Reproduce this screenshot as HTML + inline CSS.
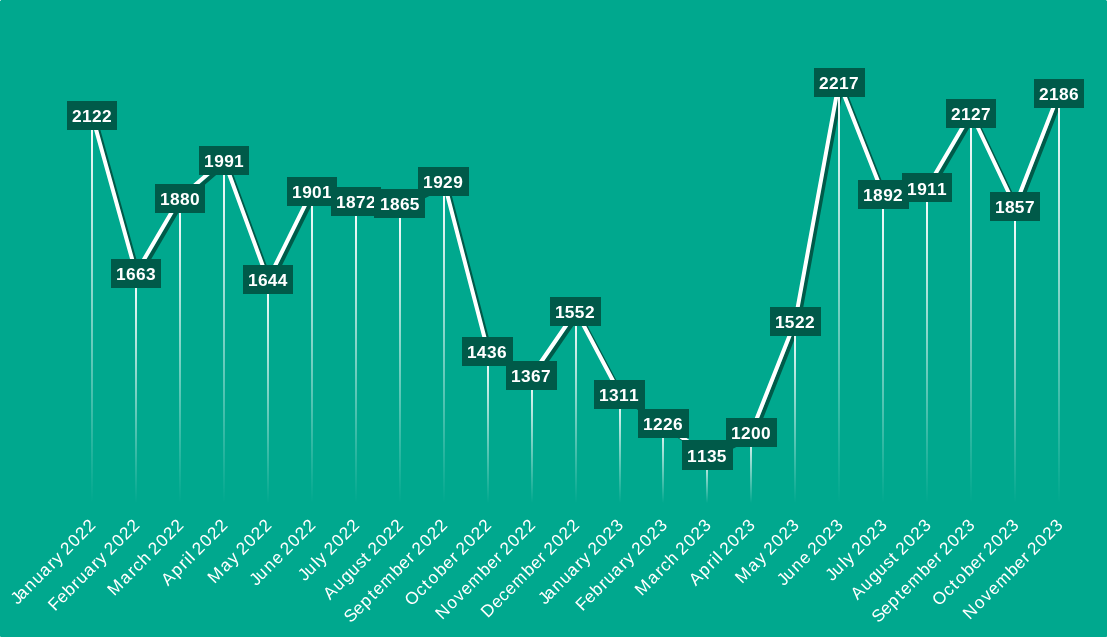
<!DOCTYPE html>
<html lang="en">
<head>
<meta charset="utf-8">
<title>Monthly values chart</title>
<style>
html,body{margin:0;padding:0;background:#00A88E;}
body{width:1107px;height:637px;overflow:hidden;}
svg{display:block;}
text{font-family:"Liberation Sans", sans-serif;fill:#fff;}
.dl{font-weight:700;font-size:17.3px;text-anchor:start;}
.ax{font-weight:400;font-size:17.2px;text-anchor:start;}
</style>
</head>
<body>
<svg width="1107" height="637" viewBox="0 0 1107 637">
<defs>
<linearGradient id="g0" gradientUnits="userSpaceOnUse" x1="0" y1="115.14" x2="0" y2="503.00"><stop offset="0" stop-color="#fff" stop-opacity="1"/><stop offset="1" stop-color="#fff" stop-opacity="0"/></linearGradient>
<linearGradient id="g1" gradientUnits="userSpaceOnUse" x1="0" y1="273.22" x2="0" y2="503.00"><stop offset="0" stop-color="#fff" stop-opacity="1"/><stop offset="1" stop-color="#fff" stop-opacity="0"/></linearGradient>
<linearGradient id="g2" gradientUnits="userSpaceOnUse" x1="0" y1="198.48" x2="0" y2="503.00"><stop offset="0" stop-color="#fff" stop-opacity="1"/><stop offset="1" stop-color="#fff" stop-opacity="0"/></linearGradient>
<linearGradient id="g3" gradientUnits="userSpaceOnUse" x1="0" y1="160.25" x2="0" y2="503.00"><stop offset="0" stop-color="#fff" stop-opacity="1"/><stop offset="1" stop-color="#fff" stop-opacity="0"/></linearGradient>
<linearGradient id="g4" gradientUnits="userSpaceOnUse" x1="0" y1="279.76" x2="0" y2="503.00"><stop offset="0" stop-color="#fff" stop-opacity="1"/><stop offset="1" stop-color="#fff" stop-opacity="0"/></linearGradient>
<linearGradient id="g5" gradientUnits="userSpaceOnUse" x1="0" y1="191.25" x2="0" y2="503.00"><stop offset="0" stop-color="#fff" stop-opacity="1"/><stop offset="1" stop-color="#fff" stop-opacity="0"/></linearGradient>
<linearGradient id="g6" gradientUnits="userSpaceOnUse" x1="0" y1="201.24" x2="0" y2="503.00"><stop offset="0" stop-color="#fff" stop-opacity="1"/><stop offset="1" stop-color="#fff" stop-opacity="0"/></linearGradient>
<linearGradient id="g7" gradientUnits="userSpaceOnUse" x1="0" y1="203.65" x2="0" y2="503.00"><stop offset="0" stop-color="#fff" stop-opacity="1"/><stop offset="1" stop-color="#fff" stop-opacity="0"/></linearGradient>
<linearGradient id="g8" gradientUnits="userSpaceOnUse" x1="0" y1="181.61" x2="0" y2="503.00"><stop offset="0" stop-color="#fff" stop-opacity="1"/><stop offset="1" stop-color="#fff" stop-opacity="0"/></linearGradient>
<linearGradient id="g9" gradientUnits="userSpaceOnUse" x1="0" y1="351.40" x2="0" y2="503.00"><stop offset="0" stop-color="#fff" stop-opacity="1"/><stop offset="1" stop-color="#fff" stop-opacity="0"/></linearGradient>
<linearGradient id="g10" gradientUnits="userSpaceOnUse" x1="0" y1="375.16" x2="0" y2="503.00"><stop offset="0" stop-color="#fff" stop-opacity="1"/><stop offset="1" stop-color="#fff" stop-opacity="0"/></linearGradient>
<linearGradient id="g11" gradientUnits="userSpaceOnUse" x1="0" y1="311.45" x2="0" y2="503.00"><stop offset="0" stop-color="#fff" stop-opacity="1"/><stop offset="1" stop-color="#fff" stop-opacity="0"/></linearGradient>
<linearGradient id="g12" gradientUnits="userSpaceOnUse" x1="0" y1="394.45" x2="0" y2="503.00"><stop offset="0" stop-color="#fff" stop-opacity="1"/><stop offset="1" stop-color="#fff" stop-opacity="0"/></linearGradient>
<linearGradient id="g13" gradientUnits="userSpaceOnUse" x1="0" y1="423.72" x2="0" y2="503.00"><stop offset="0" stop-color="#fff" stop-opacity="1"/><stop offset="1" stop-color="#fff" stop-opacity="0"/></linearGradient>
<linearGradient id="g14" gradientUnits="userSpaceOnUse" x1="0" y1="455.06" x2="0" y2="503.00"><stop offset="0" stop-color="#fff" stop-opacity="1"/><stop offset="1" stop-color="#fff" stop-opacity="0"/></linearGradient>
<linearGradient id="g15" gradientUnits="userSpaceOnUse" x1="0" y1="432.67" x2="0" y2="503.00"><stop offset="0" stop-color="#fff" stop-opacity="1"/><stop offset="1" stop-color="#fff" stop-opacity="0"/></linearGradient>
<linearGradient id="g16" gradientUnits="userSpaceOnUse" x1="0" y1="321.78" x2="0" y2="503.00"><stop offset="0" stop-color="#fff" stop-opacity="1"/><stop offset="1" stop-color="#fff" stop-opacity="0"/></linearGradient>
<linearGradient id="g17" gradientUnits="userSpaceOnUse" x1="0" y1="82.42" x2="0" y2="503.00"><stop offset="0" stop-color="#fff" stop-opacity="1"/><stop offset="1" stop-color="#fff" stop-opacity="0"/></linearGradient>
<linearGradient id="g18" gradientUnits="userSpaceOnUse" x1="0" y1="194.35" x2="0" y2="503.00"><stop offset="0" stop-color="#fff" stop-opacity="1"/><stop offset="1" stop-color="#fff" stop-opacity="0"/></linearGradient>
<linearGradient id="g19" gradientUnits="userSpaceOnUse" x1="0" y1="187.81" x2="0" y2="503.00"><stop offset="0" stop-color="#fff" stop-opacity="1"/><stop offset="1" stop-color="#fff" stop-opacity="0"/></linearGradient>
<linearGradient id="g20" gradientUnits="userSpaceOnUse" x1="0" y1="113.42" x2="0" y2="503.00"><stop offset="0" stop-color="#fff" stop-opacity="1"/><stop offset="1" stop-color="#fff" stop-opacity="0"/></linearGradient>
<linearGradient id="g21" gradientUnits="userSpaceOnUse" x1="0" y1="206.40" x2="0" y2="503.00"><stop offset="0" stop-color="#fff" stop-opacity="1"/><stop offset="1" stop-color="#fff" stop-opacity="0"/></linearGradient>
<linearGradient id="g22" gradientUnits="userSpaceOnUse" x1="0" y1="93.10" x2="0" y2="503.00"><stop offset="0" stop-color="#fff" stop-opacity="1"/><stop offset="1" stop-color="#fff" stop-opacity="0"/></linearGradient>
</defs>
<rect x="0" y="0" width="1107" height="637" fill="#00A88E"/>
<rect x="0" y="0" width="1" height="1" fill="#fff" fill-opacity="0.65"/><rect x="1106" y="0" width="1" height="1" fill="#fff" fill-opacity="0.5"/><rect x="0" y="636" width="1" height="1" fill="#fff" fill-opacity="0.3"/><rect x="1106" y="636" width="1" height="1" fill="#fff" fill-opacity="0.18"/>
<polyline points="92,115 136,273 180,198 224,160 268,280 312,191 356,201 400,204 444,182 488,351 532,375 576,311 620,394 663,424 707,455 751,433 795,322 839,82 883,194 927,188 971,113 1015,206 1059,93" fill="none" stroke="#005A49" stroke-width="4" stroke-linejoin="round" stroke-linecap="round" transform="translate(3 3)"/>
<polyline points="92,115 136,273 180,198 224,160 268,280 312,191 356,201 400,204 444,182 488,351 532,375 576,311 620,394 663,424 707,455 751,433 795,322 839,82 883,194 927,188 971,113 1015,206 1059,93" fill="none" stroke="#fff" stroke-width="4" stroke-linejoin="round" stroke-linecap="round"/>
<g>
<rect x="91" y="115.14" width="2" height="387.86" fill="url(#g0)"/>
<rect x="135" y="273.22" width="2" height="229.78" fill="url(#g1)"/>
<rect x="179" y="198.48" width="2" height="304.52" fill="url(#g2)"/>
<rect x="223" y="160.25" width="2" height="342.75" fill="url(#g3)"/>
<rect x="267" y="279.76" width="2" height="223.24" fill="url(#g4)"/>
<rect x="311" y="191.25" width="2" height="311.75" fill="url(#g5)"/>
<rect x="355" y="201.24" width="2" height="301.76" fill="url(#g6)"/>
<rect x="399" y="203.65" width="2" height="299.35" fill="url(#g7)"/>
<rect x="443" y="181.61" width="2" height="321.39" fill="url(#g8)"/>
<rect x="487" y="351.40" width="2" height="151.60" fill="url(#g9)"/>
<rect x="531" y="375.16" width="2" height="127.84" fill="url(#g10)"/>
<rect x="575" y="311.45" width="2" height="191.55" fill="url(#g11)"/>
<rect x="619" y="394.45" width="2" height="108.55" fill="url(#g12)"/>
<rect x="662" y="423.72" width="2" height="79.28" fill="url(#g13)"/>
<rect x="706" y="455.06" width="2" height="47.94" fill="url(#g14)"/>
<rect x="750" y="432.67" width="2" height="70.33" fill="url(#g15)"/>
<rect x="794" y="321.78" width="2" height="181.22" fill="url(#g16)"/>
<rect x="838" y="82.42" width="2" height="420.58" fill="url(#g17)"/>
<rect x="882" y="194.35" width="2" height="308.65" fill="url(#g18)"/>
<rect x="926" y="187.81" width="2" height="315.19" fill="url(#g19)"/>
<rect x="970" y="113.42" width="2" height="389.58" fill="url(#g20)"/>
<rect x="1014" y="206.40" width="2" height="296.60" fill="url(#g21)"/>
<rect x="1058" y="93.10" width="2" height="409.90" fill="url(#g22)"/>
</g>
<g>
<rect x="67" y="101" width="50" height="29" fill="#005A49"/><text class="dl" y="122.1" x="72 81.9 92 102">2122</text>
<rect x="111" y="259" width="50" height="29" fill="#005A49"/><text class="dl" y="280.1" x="115.9 126 136 146.1">1663</text>
<rect x="155" y="184" width="50" height="29" fill="#005A49"/><text class="dl" y="205.1" x="159.9 169.9 179.9 189.9">1880</text>
<rect x="199" y="146" width="50" height="29" fill="#005A49"/><text class="dl" y="167.1" x="203.9 214.2 224.2 233.9">1991</text>
<rect x="243" y="265" width="50" height="29" fill="#005A49"/><text class="dl" y="286.1" x="247.9 258 267.8 277.8">1644</text>
<rect x="287" y="177" width="50" height="29" fill="#005A49"/><text class="dl" y="198.1" x="291.9 302.2 311.9 321.9">1901</text>
<rect x="331" y="187" width="50" height="29" fill="#005A49"/><text class="dl" y="208.1" x="335.9 345.9 356.1 366">1872</text>
<rect x="374" y="189" width="51" height="29" fill="#005A49"/><text class="dl" y="210.1" x="379.9 389.9 400 409.7">1865</text>
<rect x="418" y="167" width="51" height="29" fill="#005A49"/><text class="dl" y="188.1" x="422.9 433.2 443 453.2">1929</text>
<rect x="462" y="337" width="51" height="29" fill="#005A49"/><text class="dl" y="358.1" x="466.9 476.8 487.1 497">1436</text>
<rect x="506" y="361" width="51" height="29" fill="#005A49"/><text class="dl" y="382.1" x="510.9 521.1 531 541.1">1367</text>
<rect x="550" y="297" width="51" height="29" fill="#005A49"/><text class="dl" y="318.1" x="554.9 564.7 574.7 585">1552</text>
<rect x="594" y="380" width="51" height="29" fill="#005A49"/><text class="dl" y="401.1" x="598.9 609.1 618.9 628.9">1311</text>
<rect x="638" y="409" width="51" height="29" fill="#005A49"/><text class="dl" y="430.1" x="642.9 653 663 673">1226</text>
<rect x="682" y="440" width="51" height="30" fill="#005A49"/><text class="dl" y="462.1" x="686.9 696.9 707.1 716.7">1135</text>
<rect x="726" y="418" width="51" height="29" fill="#005A49"/><text class="dl" y="439.1" x="730.9 741 750.9 760.9">1200</text>
<rect x="770" y="307" width="51" height="29" fill="#005A49"/><text class="dl" y="328.1" x="774.9 784.7 795 805">1522</text>
<rect x="814" y="68" width="51" height="29" fill="#005A49"/><text class="dl" y="89.1" x="819 829 838.9 849.1">2217</text>
<rect x="858" y="180" width="51" height="29" fill="#005A49"/><text class="dl" y="201.1" x="862.9 872.9 883.2 893">1892</text>
<rect x="902" y="173" width="50" height="29" fill="#005A49"/><text class="dl" y="195.1" x="906.9 917.2 926.9 936.9">1911</text>
<rect x="946" y="99" width="50" height="29" fill="#005A49"/><text class="dl" y="120.1" x="951 960.9 971 981.1">2127</text>
<rect x="990" y="192" width="50" height="29" fill="#005A49"/><text class="dl" y="213.1" x="994.9 1004.9 1014.7 1025.1">1857</text>
<rect x="1034" y="79" width="50" height="29" fill="#005A49"/><text class="dl" y="100.1" x="1039 1048.9 1058.9 1069">2186</text>
</g>
<g>
<text class="ax" transform="translate(97.40 525.40) rotate(-45)" x="-113.1 -106 -94.9 -83.9 -73.7 -62.4 -55.9 -46.3 -42.8 -32.1 -21.4 -10.7">January 2022</text>
<text class="ax" transform="translate(141.36 525.40) rotate(-45)" x="-122 -111.5 -101.2 -90.5 -83.9 -73.7 -62.4 -55.9 -46.3 -42.8 -32.1 -21.4 -10.7">February 2022</text>
<text class="ax" transform="translate(185.32 525.40) rotate(-45)" x="-100.6 -84.2 -72.9 -66.6 -57.2 -46.3 -42.8 -32.1 -21.4 -10.7">March 2022</text>
<text class="ax" transform="translate(229.28 525.40) rotate(-45)" x="-86.5 -73.8 -62.5 -55.7 -50.9 -46.3 -42.8 -32.1 -21.4 -10.7">April 2022</text>
<text class="ax" transform="translate(273.24 525.40) rotate(-45)" x="-83.1 -66.8 -55.9 -46.3 -42.8 -32.1 -21.4 -10.7">May 2022</text>
<text class="ax" transform="translate(317.20 525.40) rotate(-45)" x="-86.3 -78.3 -67.1 -56.3 -46.3 -42.8 -32.1 -21.4 -10.7">June 2022</text>
<text class="ax" transform="translate(361.16 525.40) rotate(-45)" x="-79.7 -71.7 -60.4 -55.9 -46.3 -42.8 -32.1 -21.4 -10.7">July 2022</text>
<text class="ax" transform="translate(405.12 525.40) rotate(-45)" x="-106.2 -93.6 -82.7 -72.6 -62.2 -52.7 -46.3 -42.8 -32.1 -21.4 -10.7">August 2022</text>
<text class="ax" transform="translate(449.08 525.40) rotate(-45)" x="-138.9 -127.8 -117.5 -106 -99.7 -89.3 -73.4 -63.3 -52.9 -46.3 -42.8 -32.1 -21.4 -10.7">September 2022</text>
<text class="ax" transform="translate(493.04 525.40) rotate(-45)" x="-115.2 -101.1 -91.2 -84.6 -73.4 -63.3 -52.9 -46.3 -42.8 -32.1 -21.4 -10.7">October 2022</text>
<text class="ax" transform="translate(537.00 525.40) rotate(-45)" x="-134 -120.1 -109.2 -99.7 -89.3 -73.4 -63.3 -52.9 -46.3 -42.8 -32.1 -21.4 -10.7">November 2022</text>
<text class="ax" transform="translate(580.96 525.40) rotate(-45)" x="-131.8 -118.5 -108.8 -99.7 -89.3 -73.4 -63.3 -52.9 -46.3 -42.8 -32.1 -21.4 -10.7">December 2022</text>
<text class="ax" transform="translate(624.92 525.40) rotate(-45)" x="-113.1 -106 -94.9 -83.9 -73.7 -62.4 -55.9 -46.3 -42.8 -32.1 -21.4 -10.6">January 2023</text>
<text class="ax" transform="translate(668.88 525.40) rotate(-45)" x="-122 -111.5 -101.2 -90.5 -83.9 -73.7 -62.4 -55.9 -46.3 -42.8 -32.1 -21.4 -10.6">February 2023</text>
<text class="ax" transform="translate(712.84 525.40) rotate(-45)" x="-100.6 -84.2 -72.9 -66.6 -57.2 -46.3 -42.8 -32.1 -21.4 -10.6">March 2023</text>
<text class="ax" transform="translate(756.80 525.40) rotate(-45)" x="-86.5 -73.8 -62.5 -55.7 -50.9 -46.3 -42.8 -32.1 -21.4 -10.6">April 2023</text>
<text class="ax" transform="translate(800.76 525.40) rotate(-45)" x="-83.1 -66.8 -55.9 -46.3 -42.8 -32.1 -21.4 -10.6">May 2023</text>
<text class="ax" transform="translate(844.72 525.40) rotate(-45)" x="-86.3 -78.3 -67.1 -56.3 -46.3 -42.8 -32.1 -21.4 -10.6">June 2023</text>
<text class="ax" transform="translate(888.68 525.40) rotate(-45)" x="-79.7 -71.7 -60.4 -55.9 -46.3 -42.8 -32.1 -21.4 -10.6">July 2023</text>
<text class="ax" transform="translate(932.64 525.40) rotate(-45)" x="-106.2 -93.6 -82.7 -72.6 -62.2 -52.7 -46.3 -42.8 -32.1 -21.4 -10.6">August 2023</text>
<text class="ax" transform="translate(976.60 525.40) rotate(-45)" x="-138.9 -127.8 -117.5 -106 -99.7 -89.3 -73.4 -63.3 -52.9 -46.3 -42.8 -32.1 -21.4 -10.6">September 2023</text>
<text class="ax" transform="translate(1020.56 525.40) rotate(-45)" x="-115.2 -101.1 -91.2 -84.6 -73.4 -63.3 -52.9 -46.3 -42.8 -32.1 -21.4 -10.6">October 2023</text>
<text class="ax" transform="translate(1064.52 525.40) rotate(-45)" x="-134 -120.1 -109.2 -99.7 -89.3 -73.4 -63.3 -52.9 -46.3 -42.8 -32.1 -21.4 -10.6">November 2023</text>
</g>
</svg>
</body>
</html>
